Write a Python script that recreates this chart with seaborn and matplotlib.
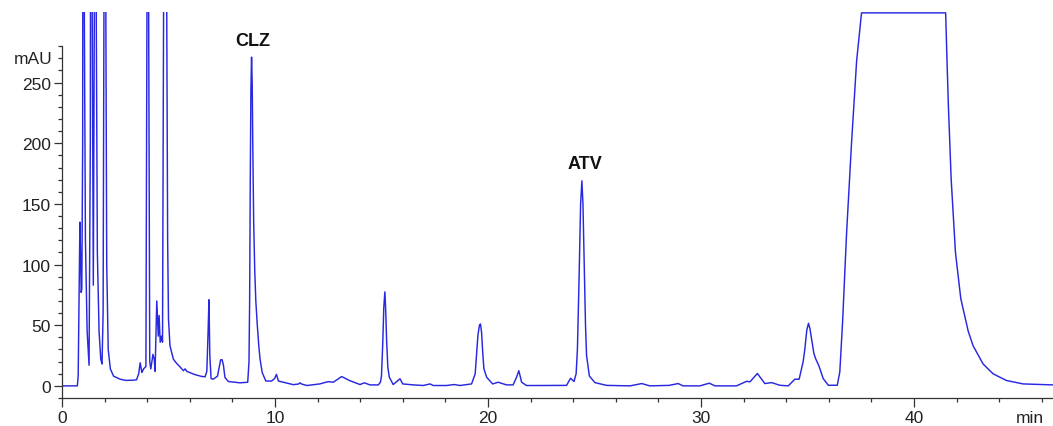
import matplotlib
matplotlib.use('Agg')
import matplotlib.pyplot as plt
import seaborn as sns
from matplotlib.ticker import FixedLocator

# Chromatogram trace (time in min, absorbance in mAU)
# off-scale peaks are given estimated apex values, the axes clip them
time_min = [
    0.00, 0.72, 0.76, 0.80, 0.84, 0.87, 0.90, 0.93, 0.97, 1.01,
    1.05, 1.10, 1.18, 1.27, 1.33, 1.37, 1.42, 1.47, 1.52, 1.56,
    1.61, 1.66, 1.74, 1.82, 1.88, 1.93, 1.97, 2.01, 2.06, 2.10,
    2.17, 2.27, 2.42, 2.73, 3.00, 3.36, 3.50, 3.60, 3.67, 3.75,
    3.83, 3.94, 3.99, 4.03, 4.07, 4.12, 4.17, 4.22, 4.27, 4.33,
    4.37, 4.45, 4.52, 4.56, 4.61, 4.67, 4.72, 4.77, 4.83, 4.92,
    4.96, 5.00, 5.07, 5.23, 5.36, 5.55, 5.70, 5.78, 5.86, 6.00,
    6.22, 6.55, 6.72, 6.80, 6.86, 6.90, 6.94, 7.00, 7.10, 7.30,
    7.38, 7.45, 7.52, 7.58, 7.65, 7.81, 8.36, 8.72, 8.78, 8.81,
    8.84, 8.87, 8.90, 8.93, 8.96, 9.00, 9.05, 9.10, 9.17, 9.24,
    9.30, 9.40, 9.57, 9.84, 9.98, 10.07, 10.16, 10.40, 10.86, 11.10,
    11.17, 11.25, 11.50, 12.10, 12.50, 12.74, 12.95, 13.13, 13.50, 13.99,
    14.20, 14.46, 14.85, 14.95, 15.00, 15.06, 15.11, 15.16, 15.20, 15.24,
    15.30, 15.37, 15.55, 15.87, 16.00, 16.50, 16.96, 17.28, 17.43, 18.05,
    18.42, 18.68, 19.23, 19.40, 19.46, 19.53, 19.60, 19.65, 19.70, 19.76,
    19.81, 19.94, 20.22, 20.48, 20.87, 21.18, 21.34, 21.45, 21.58, 21.81,
    22.40, 23.69, 23.88, 24.04, 24.14, 24.20, 24.28, 24.35, 24.41, 24.46,
    24.52, 24.58, 24.63, 24.76, 25.02, 25.57, 26.67, 27.22, 27.60, 28.50,
    28.93, 29.16, 29.95, 30.39, 30.66, 31.67, 32.15, 32.30, 32.65, 33.00,
    33.32, 33.70, 34.10, 34.41, 34.61, 34.80, 34.88, 34.97, 35.05, 35.12,
    35.20, 35.30, 35.38, 35.54, 35.74, 35.98, 36.40, 36.52, 36.65, 36.84,
    37.07, 37.31, 37.54, 41.49, 41.55, 41.62, 41.75, 41.95, 42.20, 42.55,
    42.78, 43.25, 43.72, 44.35, 45.13, 46.53,
]
signal_mau = [
    0, 0, 8, 70, 135, 110, 77, 80, 200, 1000,
    300, 120, 45, 17, 200, 800, 300, 83, 300, 900,
    300, 110, 45, 22, 18, 60, 300, 1000, 300, 100,
    30, 14, 8, 5.5, 4.5, 4.7, 5, 10, 19, 11,
    14, 16, 300, 1500, 300, 20, 14, 20, 26, 22,
    12, 70, 41, 58, 36, 41, 36, 300, 1200, 300,
    120, 55, 33, 22, 19, 15.5, 12.5, 14, 12, 11,
    9.4, 7.8, 7.5, 12, 45, 71, 25, 6, 5.5, 8,
    15, 21.5, 21.5, 17, 7, 3.6, 2.5, 3, 20, 70,
    170, 245, 271, 250, 195, 135, 95, 70, 50, 33,
    22, 11, 4, 4, 6, 9.5, 4, 3, 1, 1.5,
    2.5, 1.5, 0.3, 1.6, 3.5, 3, 5.5, 7.7, 4.4, 1.1,
    2.5, 0.8, 0.8, 3, 8, 35, 65, 77.5, 62, 38,
    15, 7.1, 1.1, 5.8, 1.6, 0.8, 0.3, 1.6, 0.3, 0.3,
    1.1, 0.3, 1.6, 10, 25, 42, 50, 51, 44, 26,
    14, 7.1, 1.6, 3, 0.8, 0.8, 7, 12.5, 3, 0.3,
    0.3, 0.4, 6.3, 3.6, 10, 30, 90, 150, 169, 150,
    100, 50, 25, 8.2, 2.7, 0.4, 0, 1.9, 0, 0.4,
    1.9, 0, 0, 2.2, 0, 0, 3.8, 3.3, 10.2, 1.9,
    2.7, 0.5, 0, 5.5, 5.5, 20, 30.5, 46, 51.6, 47,
    38, 27, 22.6, 16.5, 6, 0.5, 0.5, 11.5, 52.5, 126.6,
    200, 268, 307.5, 307.5, 270, 230, 170, 110, 72, 45,
    33, 18, 9.9, 4.4, 1.6, 0.8,
]

peak_names = ['CLZ', 'ATV']
peak_label_x = [8.95, 24.54]
peak_label_y = [285, 183]

y_major = [0, 50, 100, 150, 200, 250]
y_minor = list(range(-10, 281, 10))
x_major = [0, 10, 20, 30, 40]
x_minor = list(range(0, 47, 2))

sns.set_theme(style='ticks')
plt.rcParams['font.family'] = ['Liberation Sans', 'DejaVu Sans']

fig = plt.figure(figsize=(10.53, 4.27), dpi=100)
ax = fig.add_axes([62 / 1053, 28 / 427, 991 / 1053, 318.5 * 1.213 / 427])

sns.lineplot(x=time_min, y=signal_mau, ax=ax, color='#2828e0', lw=1.05)

ax.set_xlim(0, 46.53)
ax.set_ylim(-10, 308.5)
sns.despine(ax=ax)
ax.spines['left'].set_bounds(-10, 280)
for s in ['left', 'bottom']:
    ax.spines[s].set_color('#333333')
    ax.spines[s].set_linewidth(0.9)

ax.yaxis.set_major_locator(FixedLocator(y_major))
ax.yaxis.set_minor_locator(FixedLocator(y_minor))
ax.xaxis.set_major_locator(FixedLocator(x_major))
ax.xaxis.set_minor_locator(FixedLocator(x_minor))

ax.tick_params(which='both', direction='out', color='#333333', width=0.9,
               labelsize=12.5, labelcolor='#222222')
ax.tick_params(axis='y', which='major', length=6, pad=2)
ax.tick_params(axis='x', which='major', length=6.5, pad=2)
ax.tick_params(which='minor', length=3)
ax.set_xlabel('')
ax.set_ylabel('')

# unit labels placed where the software puts them
ax.annotate('mAU', xy=(0, 270), xycoords=ax.get_yaxis_transform(),
            xytext=(-6.5, 0), textcoords='offset points',
            ha='right', va='center', fontsize=12.5, color='#222222')
ax.annotate('min', xy=(45.45, 0), xycoords=ax.get_xaxis_transform(),
            xytext=(0, -8.5), textcoords='offset points',
            ha='center', va='top', fontsize=12.5, color='#222222')

for name, px, py in zip(peak_names, peak_label_x, peak_label_y):
    ax.text(px, py, name, ha='center', va='center', fontsize=13,
            fontweight='bold', color='#111111')

fig.savefig('out.png', dpi=100)
